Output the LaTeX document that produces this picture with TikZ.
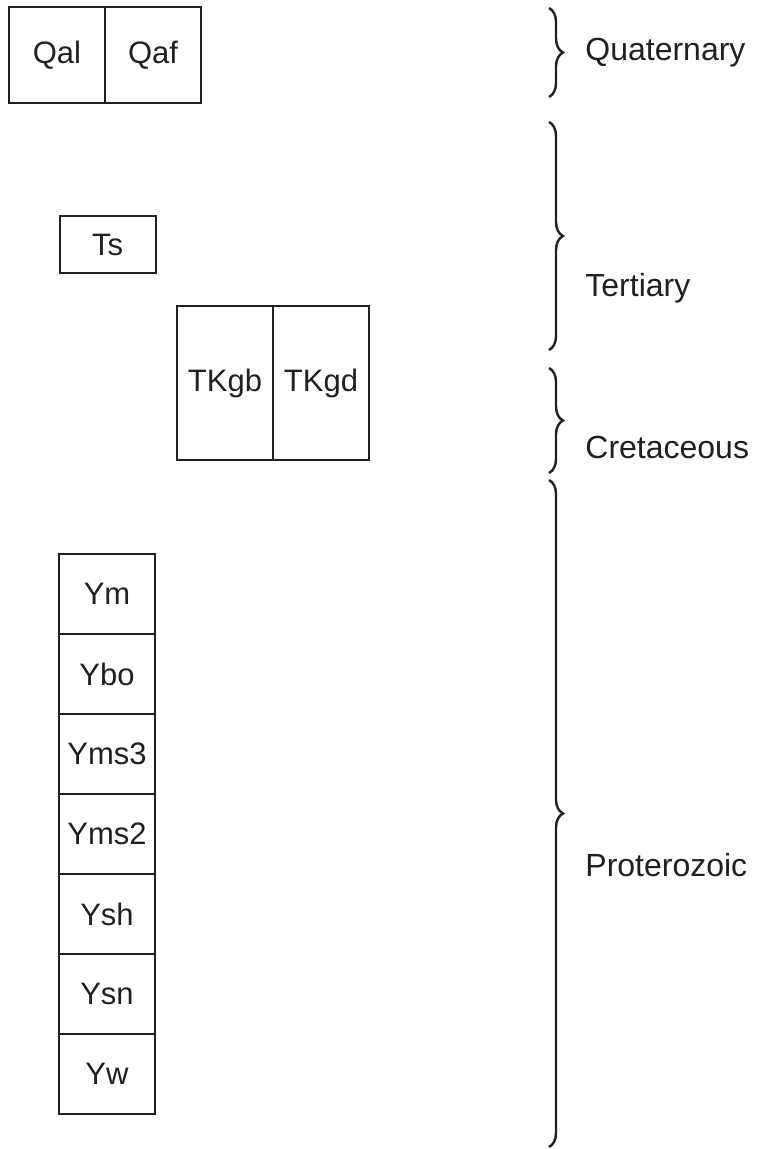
\documentclass[tikz,border=0pt]{standalone}
\usepackage{fontspec}
\setmainfont{Liberation Sans}
\usetikzlibrary{positioning, decorations.pathreplacing}
\definecolor{ink}{HTML}{231F20}
\tikzstyle{unit} = [rectangle, draw=ink, line width=1pt, minimum width=48pt, outer sep=0pt, inner sep=0pt, text=ink, font=\fontsize{15.5}{18}\selectfont]
\tikzstyle{sq} = [unit, minimum height=48pt]
\tikzstyle{flat} = [unit, minimum height=28.5pt]
\tikzstyle{tall} = [unit, minimum height=77pt]
\tikzstyle{layer} = [unit, minimum height=40pt]
\tikzstyle{era} = [decorate, decoration={brace, amplitude=7pt}, draw=ink, line width=1.2pt]
\tikzstyle{eralabel} = [anchor=base west, inner sep=0pt, text=ink, font=\fontsize{16}{19}\selectfont]

\begin{document}
\begin{tikzpicture}[x=0.5pt, y=-0.5pt]
  \useasboundingbox (0,0) rectangle (758,1149);
  \node (qal) [sq] at (57,55) {Qal};
  \node (qaf) [sq, right=0pt of qal] {Qaf};
  \node (ts) [flat] at (107.5,244.5) {Ts};
  \node (tkgb) [tall] at (225,383) {TKgb};
  \node (tkgd) [tall, right=0pt of tkgb] {TKgd};
  \node (ym) [layer] at (107,594) {Ym};
  \node (ybo) [layer, below=0pt of ym] {Ybo};
  \node (yms3) [layer, below=0pt of ybo] {Yms3};
  \node (yms2) [layer, below=0pt of yms3] {Yms2};
  \node (ysh) [layer, below=0pt of yms2] {Ysh};
  \node (ysn) [layer, below=0pt of ysh] {Ysn};
  \node (yw) [layer, below=0pt of ysn] {Yw};
  % brace ends
  \coordinate (qtop) at (549,8);
  \coordinate (qbot) at (549,97);
  \coordinate (ttop) at (549,122);
  \coordinate (tbot) at (549,350);
  \coordinate (ktop) at (549,368);
  \coordinate (kbot) at (549,473);
  \coordinate (ptop) at (549,480);
  \coordinate (pbot) at (549,1147);
  \draw [era] (qtop) -- (qbot);
  \draw [era] (ttop) -- (tbot);
  \draw [era] (ktop) -- (kbot);
  \draw [era] (ptop) -- (pbot);
  \node (quat) [eralabel] at (585,61) {Quaternary};
  \node (tert) [eralabel] at (585,297) {Tertiary};
  \node (cret) [eralabel] at (585,458) {Cretaceous};
  \node (prot) [eralabel] at (585,876) {Proterozoic};
\end{tikzpicture}
\end{document}
